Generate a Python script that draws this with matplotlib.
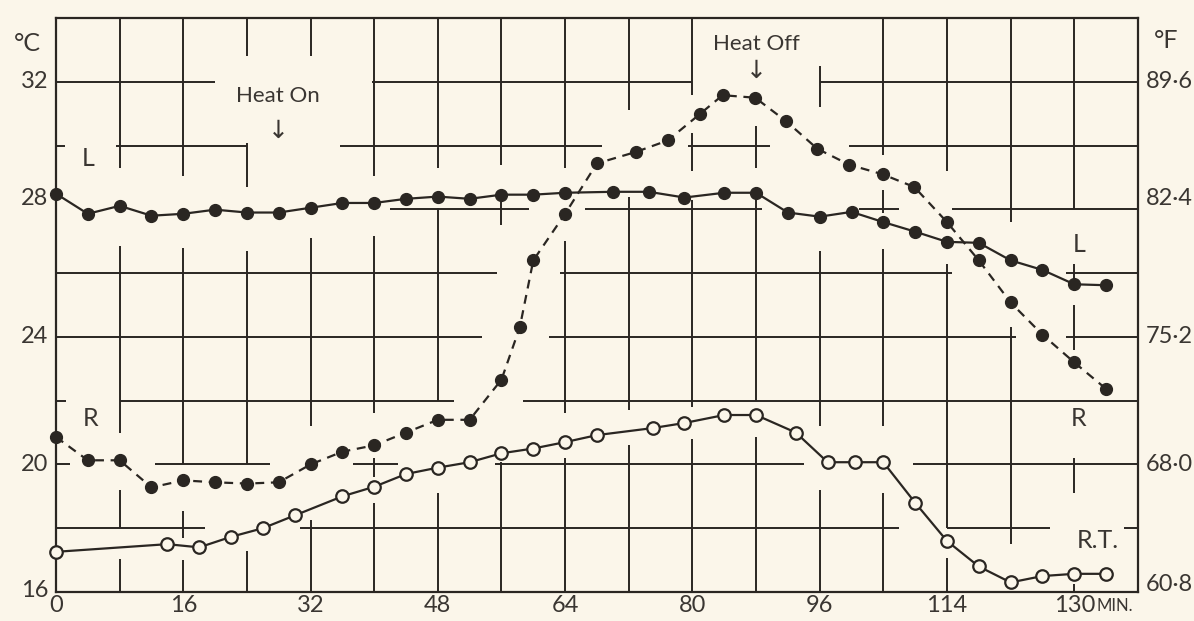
import matplotlib
matplotlib.use("Agg")
import matplotlib.pyplot as plt

# data (minutes, deg C)
l_min = [0, 4, 8, 12, 16, 20, 24, 28, 32, 36, 40, 44, 48, 52, 56, 60, 64, 70, 74.5, 79, 84, 88,
         92, 96, 100, 104, 108, 112, 116, 120, 124, 128, 132]
l_temp = [28.49, 27.86, 28.11, 27.8, 27.86, 27.99, 27.9, 27.9, 28.05, 28.2, 28.2, 28.33, 28.4, 28.33,
          28.46, 28.46, 28.52, 28.55, 28.55, 28.37, 28.52, 28.52,
          27.9, 27.77, 27.92, 27.6, 27.3, 26.98, 26.95, 26.4, 26.1, 25.65, 25.62]

r_min = [0, 4, 8, 12, 16, 20, 24, 28, 32, 36, 40, 44, 48, 52, 56, 58.3, 60, 64, 68, 72.9, 76.9,
         80.9, 83.8, 87.9, 91.8, 95.7, 99.7, 103.9, 107.9, 112, 116, 120, 124, 128, 132]
r_temp = [20.86, 20.13, 20.13, 19.28, 19.5, 19.44, 19.4, 19.44, 20.0, 20.4, 20.6, 21.0, 21.4, 21.4,
          22.66, 24.3, 26.4, 27.86, 29.44, 29.8, 30.16, 30.98, 31.58, 31.5, 30.76, 29.9, 29.4, 29.1,
          28.7, 27.6, 26.4, 25.08, 24.07, 23.2, 22.37]

rt_min = [0, 14, 18, 22, 26, 30, 36, 40, 44, 48, 52, 56, 60, 64, 68, 75, 79, 84, 88, 93, 97, 100.5,
          104, 108, 112, 116, 120, 124, 128, 132]
rt_temp = [17.26, 17.5, 17.4, 17.73, 18.0, 18.4, 19.0, 19.3, 19.7, 19.9, 20.07, 20.35, 20.5, 20.7,
           20.92, 21.14, 21.3, 21.55, 21.55, 21.0, 20.07, 20.07, 20.07, 18.8, 17.6, 16.8, 16.3, 16.5,
           16.57, 16.57]

x_ticks = [0, 16, 32, 48, 64, 80, 96, 112, 128]
x_labels = ["0", "16", "32", "48", "64", "80", "96", "114", "130"]
c_ticks = [32, 28, 24, 20, 16]
c_labels = ["32", "28", "24", "20", "16"]
f_labels = ["89·6", "82·4", "75·2", "68·0", "60·8"]

# broken grid lines of the printed chart
hgrid = {
    32: [(0, 20), (39.7, 80), (96, 136)],
    30: [(0, 1.1), (7.6, 24), (35.7, 68.6), (79.4, 89.7), (99.7, 136)],
    28: [(42, 59.5), (66.5, 88.7), (101, 106), (112.6, 136)],
    26: [(0, 55.4), (63.3, 112.6), (127, 136)],
    24: [(0, 53.5), (62, 120.7), (127, 136)],
    22: [(0, 1.3), (8, 50), (58.7, 136)],
    20: [(0, 1.8), (12.4, 26.9), (37.3, 43), (55.2, 94), (107.7, 136)],
    18: [(0, 18.7), (30.7, 106), (112, 125), (134.3, 136)],
}
vgrid = {
    8: [(29.3, 34), (21.0, 26.85), (18.0, 19.2), (16, 17.05)],
    16: [(29.06, 34), (20.0, 26.8), (17.7, 18.55), (16, 17.0)],
    24: [(32.8, 34), (28.7, 30.07), (20, 26.7), (16, 17.3)],
    32: [(32.8, 34), (21.2, 27.1), (16, 18.25)],
    40: [(29.06, 34), (21.6, 27.15), (19.6, 20.2), (16, 18.8)],
    48: [(29.3, 34), (22.0, 28.05), (16, 19.1)],
    56: [(29.4, 34), (27.5, 28.3), (16, 20.07)],
    64: [(29.3, 34), (21.6, 27), (16, 20.2)],
    72: [(31.1, 34), (21.7, 28.4), (16, 20.6)],
    80: [(31.6, 34), (29.2, 30.4), (21.8, 28.3), (16, 20.8)],
    88: [(29.3, 30.6), (22.0, 28.3), (16, 20.85)],
    96: [(31.2, 32.5), (21.2, 26.7), (16, 19.2)],
    104: [(29.7, 34), (27.9, 28.6), (21.2, 26.75), (16, 19.1)],
    112: [(29.2, 34), (18, 26.3), (16, 17.07)],
    120: [(27.6, 34), (17.5, 24.3)],
    128: [(28.0, 34), (25.8, 26.3), (23.6, 25.0), (19.1, 20.2), (16, 16.25)],
}

bg = "#fbf6ea"
ink = "#2a2622"
txt = "#3a3632"
plt.rcParams["font.family"] = ["Lato", "DejaVu Sans"]

fig = plt.figure(figsize=(11.94, 6.21), dpi=100, facecolor=bg)
ax = fig.add_axes([0.0469, 0.0467, 0.9061, 0.9243])
ax.set_facecolor(bg)
ax.set_xlim(0, 136)
ax.set_ylim(16, 34)

for y, segs in hgrid.items():
    for a, b in segs:
        ax.hlines(y, a, b, color=ink, lw=1.4, zorder=1)
for x, segs in vgrid.items():
    for a, b in segs:
        ax.vlines(x, a, b, color=ink, lw=1.4, zorder=1)

ax.plot(l_min, l_temp, color=ink, lw=1.6, marker="o", ms=8.5, mfc=ink, mec=ink,
        zorder=3, clip_on=False)
ax.plot(r_min, r_temp, color=ink, lw=1.6, ls=(0, (4, 3)), marker="o", ms=8.5, mfc=ink,
        mec=ink, zorder=3, clip_on=False)
ax.plot(rt_min, rt_temp, color=ink, lw=1.6, marker="o", ms=9, mfc=bg, mec=ink, mew=1.6,
        zorder=3, clip_on=False)

for s in ax.spines.values():
    s.set_color(ink)
    s.set_linewidth(1.6)

ax.set_xticks(x_ticks)
ax.set_xticklabels(x_labels, fontsize=17, color=txt)
ax.set_yticks([])
ax.tick_params(axis="x", length=0, pad=2)

# left and right temperature scales
nudge = {32: 0, 28: 0.35, 24: 0, 20: 0, 16: 0.05}
for c, lc, lf in zip(c_ticks, c_labels, f_labels):
    ax.text(-1.0, c + nudge[c], lc, ha="right", va="center", fontsize=17, color=txt)
    ax.text(137.0, c + nudge[c] + (0.2 if c == 16 else 0), lf, ha="left", va="center",
            fontsize=17, color=txt)

ax.text(-3.6, 33.2, "°C", ha="center", va="center", fontsize=18, color=txt)
ax.text(139.5, 33.3, "°F", ha="center", va="center", fontsize=18, color=txt)
ax.text(130.8, 15.55, "MIN.", ha="left", va="center", fontsize=12, color=txt)

ax.text(4.0, 29.6, "L", ha="center", va="center", fontsize=18, color=txt)
ax.text(128.6, 26.9, "L", ha="center", va="center", fontsize=18, color=txt)
ax.text(4.3, 21.45, "R", ha="center", va="center", fontsize=18, color=txt)
ax.text(128.6, 21.45, "R", ha="center", va="center", fontsize=18, color=txt)
ax.text(131.0, 17.6, "R.T.", ha="center", va="center", fontsize=18, color=txt)

ax.text(27.9, 31.55, "Heat On", ha="center", va="center", fontsize=16, color=txt)
ax.text(27.9, 30.45, "↓", ha="center", va="center", fontsize=18, color=txt,
        family=["DejaVu Sans"])
ax.text(88.0, 33.2, "Heat Off", ha="center", va="center", fontsize=16, color=txt)
ax.text(88.0, 32.35, "↓", ha="center", va="center", fontsize=18, color=txt,
        family=["DejaVu Sans"])

fig.savefig("out.png", dpi=100, facecolor=bg)
